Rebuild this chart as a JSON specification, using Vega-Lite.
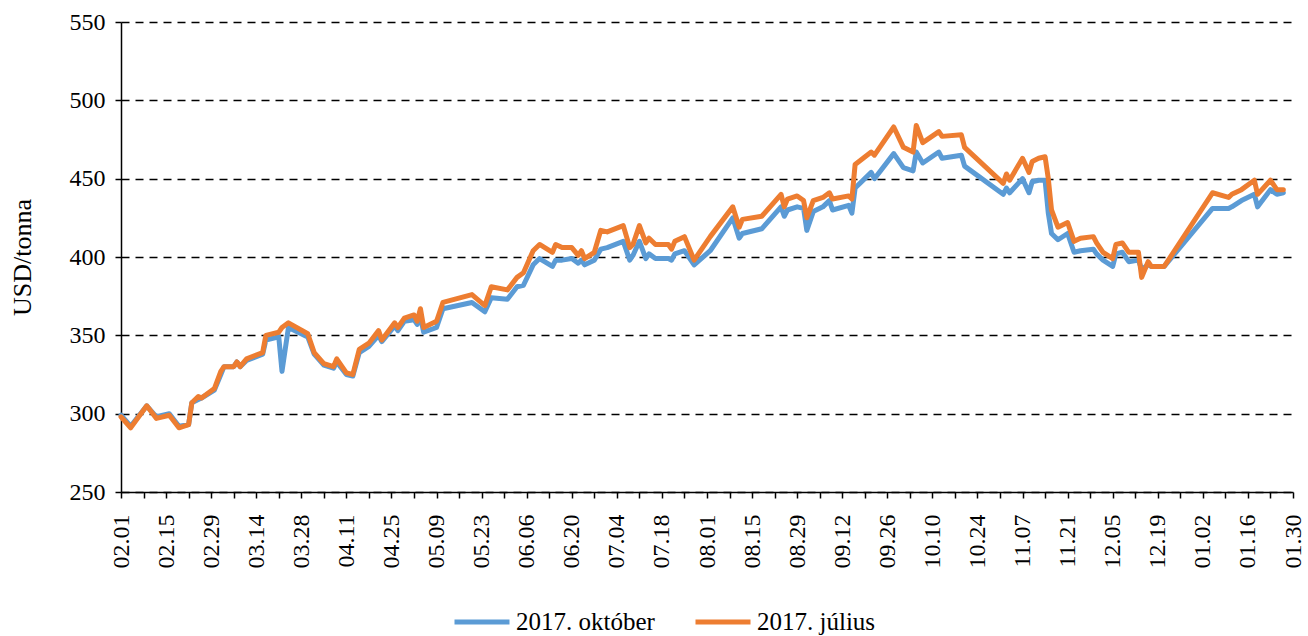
{
  "$schema": "https://vega.github.io/schema/vega-lite/v6.json",
  "width": 1172,
  "height": 470,
  "autosize": {"type": "none"},
  "padding": {"left": 121, "top": 22, "right": 15, "bottom": 144},
  "background": "white",
  "config": {"view": {"stroke": null}},
  "data": {"values": [
    {"d": "2016-02-01", "okt": 299, "jul": 298},
    {"d": "2016-02-04", "okt": 292, "jul": 291},
    {"d": "2016-02-09", "okt": 305, "jul": 305},
    {"d": "2016-02-12", "okt": 298, "jul": 297},
    {"d": "2016-02-16", "okt": 300, "jul": 299},
    {"d": "2016-02-19", "okt": 292, "jul": 291},
    {"d": "2016-02-22", "okt": 293, "jul": 293},
    {"d": "2016-02-23", "okt": 307, "jul": 307},
    {"d": "2016-02-25", "okt": 309, "jul": 311},
    {"d": "2016-02-26", "okt": 310, "jul": 310},
    {"d": "2016-03-01", "okt": 315, "jul": 316},
    {"d": "2016-03-03", "okt": 325, "jul": 327},
    {"d": "2016-03-04", "okt": 330, "jul": 330},
    {"d": "2016-03-07", "okt": 330, "jul": 330},
    {"d": "2016-03-08", "okt": 333, "jul": 333},
    {"d": "2016-03-09", "okt": 330, "jul": 330},
    {"d": "2016-03-11", "okt": 334, "jul": 335},
    {"d": "2016-03-16", "okt": 338, "jul": 339},
    {"d": "2016-03-17", "okt": 347, "jul": 350},
    {"d": "2016-03-21", "okt": 349, "jul": 352},
    {"d": "2016-03-22", "okt": 327, "jul": 355},
    {"d": "2016-03-24", "okt": 355, "jul": 358},
    {"d": "2016-03-30", "okt": 349, "jul": 351},
    {"d": "2016-04-01", "okt": 338, "jul": 339},
    {"d": "2016-04-04", "okt": 331, "jul": 332},
    {"d": "2016-04-07", "okt": 329, "jul": 330},
    {"d": "2016-04-08", "okt": 333, "jul": 335},
    {"d": "2016-04-11", "okt": 325, "jul": 326},
    {"d": "2016-04-13", "okt": 324, "jul": 325},
    {"d": "2016-04-15", "okt": 339, "jul": 341},
    {"d": "2016-04-18", "okt": 343, "jul": 345},
    {"d": "2016-04-21", "okt": 350, "jul": 353},
    {"d": "2016-04-22", "okt": 346, "jul": 347},
    {"d": "2016-04-26", "okt": 356, "jul": 358},
    {"d": "2016-04-27", "okt": 353, "jul": 355},
    {"d": "2016-04-29", "okt": 359, "jul": 361},
    {"d": "2016-05-02", "okt": 360, "jul": 363},
    {"d": "2016-05-03", "okt": 357, "jul": 359},
    {"d": "2016-05-04", "okt": 362, "jul": 367},
    {"d": "2016-05-05", "okt": 352, "jul": 355},
    {"d": "2016-05-09", "okt": 355, "jul": 359},
    {"d": "2016-05-11", "okt": 367, "jul": 371},
    {"d": "2016-05-20", "okt": 371, "jul": 376},
    {"d": "2016-05-24", "okt": 365, "jul": 369},
    {"d": "2016-05-26", "okt": 374, "jul": 381},
    {"d": "2016-05-31", "okt": 373, "jul": 379},
    {"d": "2016-06-03", "okt": 381, "jul": 387},
    {"d": "2016-06-05", "okt": 382, "jul": 390},
    {"d": "2016-06-08", "okt": 395, "jul": 404},
    {"d": "2016-06-10", "okt": 399, "jul": 408},
    {"d": "2016-06-14", "okt": 394, "jul": 403},
    {"d": "2016-06-15", "okt": 398, "jul": 408},
    {"d": "2016-06-17", "okt": 398, "jul": 406},
    {"d": "2016-06-20", "okt": 399, "jul": 406},
    {"d": "2016-06-22", "okt": 396, "jul": 401},
    {"d": "2016-06-23", "okt": 398, "jul": 404},
    {"d": "2016-06-24", "okt": 395, "jul": 399},
    {"d": "2016-06-27", "okt": 398, "jul": 403},
    {"d": "2016-06-29", "okt": 405, "jul": 417},
    {"d": "2016-07-01", "okt": 406, "jul": 416},
    {"d": "2016-07-06", "okt": 410, "jul": 420},
    {"d": "2016-07-08", "okt": 398, "jul": 406},
    {"d": "2016-07-09", "okt": 401, "jul": 408},
    {"d": "2016-07-11", "okt": 410, "jul": 420},
    {"d": "2016-07-13", "okt": 399, "jul": 409},
    {"d": "2016-07-14", "okt": 402, "jul": 412},
    {"d": "2016-07-16", "okt": 399, "jul": 408},
    {"d": "2016-07-20", "okt": 399, "jul": 408},
    {"d": "2016-07-21", "okt": 398, "jul": 405},
    {"d": "2016-07-22", "okt": 402, "jul": 410},
    {"d": "2016-07-25", "okt": 404, "jul": 413},
    {"d": "2016-07-28", "okt": 395, "jul": 398},
    {"d": "2016-08-02", "okt": 404, "jul": 413},
    {"d": "2016-08-09", "okt": 425, "jul": 432},
    {"d": "2016-08-11", "okt": 412, "jul": 419},
    {"d": "2016-08-12", "okt": 415, "jul": 424},
    {"d": "2016-08-18", "okt": 418, "jul": 426},
    {"d": "2016-08-24", "okt": 432, "jul": 440},
    {"d": "2016-08-25", "okt": 426, "jul": 432},
    {"d": "2016-08-26", "okt": 430, "jul": 437},
    {"d": "2016-08-29", "okt": 432, "jul": 439},
    {"d": "2016-08-31", "okt": 431, "jul": 436},
    {"d": "2016-09-01", "okt": 417, "jul": 425},
    {"d": "2016-09-03", "okt": 429, "jul": 436},
    {"d": "2016-09-06", "okt": 432, "jul": 438},
    {"d": "2016-09-08", "okt": 436, "jul": 441},
    {"d": "2016-09-09", "okt": 430, "jul": 437},
    {"d": "2016-09-14", "okt": 433, "jul": 439},
    {"d": "2016-09-15", "okt": 428, "jul": 437},
    {"d": "2016-09-16", "okt": 444, "jul": 459},
    {"d": "2016-09-21", "okt": 454, "jul": 467},
    {"d": "2016-09-22", "okt": 450, "jul": 465},
    {"d": "2016-09-28", "okt": 466, "jul": 483},
    {"d": "2016-10-01", "okt": 457, "jul": 470},
    {"d": "2016-10-04", "okt": 455, "jul": 467},
    {"d": "2016-10-05", "okt": 467, "jul": 484},
    {"d": "2016-10-07", "okt": 460, "jul": 473},
    {"d": "2016-10-12", "okt": 467, "jul": 480},
    {"d": "2016-10-13", "okt": 463, "jul": 477},
    {"d": "2016-10-19", "okt": 465, "jul": 478},
    {"d": "2016-10-20", "okt": 458, "jul": 470},
    {"d": "2016-11-01", "okt": 440, "jul": 447},
    {"d": "2016-11-02", "okt": 444, "jul": 453},
    {"d": "2016-11-03", "okt": 441, "jul": 449},
    {"d": "2016-11-07", "okt": 450, "jul": 463},
    {"d": "2016-11-09", "okt": 441, "jul": 454},
    {"d": "2016-11-10", "okt": 448, "jul": 461},
    {"d": "2016-11-12", "okt": 449, "jul": 463},
    {"d": "2016-11-14", "okt": 449, "jul": 464},
    {"d": "2016-11-15", "okt": 428, "jul": 450},
    {"d": "2016-11-16", "okt": 415, "jul": 430},
    {"d": "2016-11-18", "okt": 411, "jul": 419},
    {"d": "2016-11-21", "okt": 415, "jul": 422},
    {"d": "2016-11-23", "okt": 403, "jul": 410},
    {"d": "2016-11-25", "okt": 404, "jul": 412},
    {"d": "2016-11-29", "okt": 405, "jul": 413},
    {"d": "2016-11-30", "okt": 402, "jul": 409},
    {"d": "2016-12-02", "okt": 398, "jul": 403},
    {"d": "2016-12-05", "okt": 394, "jul": 399},
    {"d": "2016-12-06", "okt": 402, "jul": 408},
    {"d": "2016-12-08", "okt": 403, "jul": 409},
    {"d": "2016-12-10", "okt": 397, "jul": 403},
    {"d": "2016-12-13", "okt": 398, "jul": 403},
    {"d": "2016-12-14", "okt": 392, "jul": 387},
    {"d": "2016-12-16", "okt": 395, "jul": 397},
    {"d": "2016-12-17", "okt": 394, "jul": 394},
    {"d": "2016-12-21", "okt": 394, "jul": 394},
    {"d": "2017-01-05", "okt": 431, "jul": 441},
    {"d": "2017-01-10", "okt": 431, "jul": 438},
    {"d": "2017-01-11", "okt": 432, "jul": 440},
    {"d": "2017-01-14", "okt": 436, "jul": 443},
    {"d": "2017-01-18", "okt": 440, "jul": 449},
    {"d": "2017-01-19", "okt": 432, "jul": 440},
    {"d": "2017-01-23", "okt": 443, "jul": 449},
    {"d": "2017-01-25", "okt": 440, "jul": 443},
    {"d": "2017-01-27", "okt": 441, "jul": 443}
  ]},
  "encoding": {
    "x": {
      "field": "d",
      "type": "temporal",
      "title": null,
      "scale": {
        "type": "utc",
        "domain": [{"year": 2016, "month": 2, "date": 1, "utc": true}, {"year": 2017, "month": 1, "date": 30, "utc": true}],
        "nice": false
      },
      "axis": {
        "values": [
          {"year": 2016, "month": 2, "date": 1, "utc": true}, {"year": 2016, "month": 2, "date": 8, "utc": true}, {"year": 2016, "month": 2, "date": 15, "utc": true}, {"year": 2016, "month": 2, "date": 22, "utc": true}, {"year": 2016, "month": 2, "date": 29, "utc": true},
          {"year": 2016, "month": 3, "date": 7, "utc": true}, {"year": 2016, "month": 3, "date": 14, "utc": true}, {"year": 2016, "month": 3, "date": 21, "utc": true}, {"year": 2016, "month": 3, "date": 28, "utc": true},
          {"year": 2016, "month": 4, "date": 4, "utc": true}, {"year": 2016, "month": 4, "date": 11, "utc": true}, {"year": 2016, "month": 4, "date": 18, "utc": true}, {"year": 2016, "month": 4, "date": 25, "utc": true},
          {"year": 2016, "month": 5, "date": 2, "utc": true}, {"year": 2016, "month": 5, "date": 9, "utc": true}, {"year": 2016, "month": 5, "date": 16, "utc": true}, {"year": 2016, "month": 5, "date": 23, "utc": true}, {"year": 2016, "month": 5, "date": 30, "utc": true},
          {"year": 2016, "month": 6, "date": 6, "utc": true}, {"year": 2016, "month": 6, "date": 13, "utc": true}, {"year": 2016, "month": 6, "date": 20, "utc": true}, {"year": 2016, "month": 6, "date": 27, "utc": true},
          {"year": 2016, "month": 7, "date": 4, "utc": true}, {"year": 2016, "month": 7, "date": 11, "utc": true}, {"year": 2016, "month": 7, "date": 18, "utc": true}, {"year": 2016, "month": 7, "date": 25, "utc": true},
          {"year": 2016, "month": 8, "date": 1, "utc": true}, {"year": 2016, "month": 8, "date": 8, "utc": true}, {"year": 2016, "month": 8, "date": 15, "utc": true}, {"year": 2016, "month": 8, "date": 22, "utc": true}, {"year": 2016, "month": 8, "date": 29, "utc": true},
          {"year": 2016, "month": 9, "date": 5, "utc": true}, {"year": 2016, "month": 9, "date": 12, "utc": true}, {"year": 2016, "month": 9, "date": 19, "utc": true}, {"year": 2016, "month": 9, "date": 26, "utc": true},
          {"year": 2016, "month": 10, "date": 3, "utc": true}, {"year": 2016, "month": 10, "date": 10, "utc": true}, {"year": 2016, "month": 10, "date": 17, "utc": true}, {"year": 2016, "month": 10, "date": 24, "utc": true}, {"year": 2016, "month": 10, "date": 31, "utc": true},
          {"year": 2016, "month": 11, "date": 7, "utc": true}, {"year": 2016, "month": 11, "date": 14, "utc": true}, {"year": 2016, "month": 11, "date": 21, "utc": true}, {"year": 2016, "month": 11, "date": 28, "utc": true},
          {"year": 2016, "month": 12, "date": 5, "utc": true}, {"year": 2016, "month": 12, "date": 12, "utc": true}, {"year": 2016, "month": 12, "date": 19, "utc": true}, {"year": 2016, "month": 12, "date": 26, "utc": true},
          {"year": 2017, "month": 1, "date": 2, "utc": true}, {"year": 2017, "month": 1, "date": 9, "utc": true}, {"year": 2017, "month": 1, "date": 16, "utc": true}, {"year": 2017, "month": 1, "date": 23, "utc": true}, {"year": 2017, "month": 1, "date": 30, "utc": true}
        ],
        "labelExpr": "round((datum.value - 1454284800000) / 86400000) % 14 == 0 ? utcFormat(datum.value, '%m.%d') : ''",
        "labelAngle": -90,
        "labelOverlap": false,
        "labelBound": false,
        "labelFlush": false,
        "labelFont": "Liberation Serif",
        "labelFontSize": 24,
        "labelColor": "black",
        "labelPadding": 16,
        "grid": false,
        "domainColor": "black",
        "domainWidth": 1.5,
        "tickColor": "black",
        "tickWidth": 1.5,
        "tickSize": 6
      }
    }
  },
  "layer": [
    {
      "mark": {"type": "line", "strokeWidth": 5, "strokeJoin": "round", "strokeCap": "round"},
      "encoding": {
        "y": {
          "field": "okt",
          "type": "quantitative",
          "title": "USD/tonna",
          "scale": {"domain": [250, 550], "nice": false, "zero": false},
          "axis": {
            "values": [250, 300, 350, 400, 450, 500, 550],
            "grid": true,
            "gridColor": "black",
            "gridDash": [8, 6],
            "gridWidth": 1.5,
            "domainColor": "black",
            "domainWidth": 1.5,
            "tickColor": "black",
            "tickWidth": 1.5,
            "tickSize": 6,
            "labelFont": "Liberation Serif",
            "labelFontSize": 24,
            "labelColor": "black",
            "labelPadding": 10,
            "titleFont": "Liberation Serif",
            "titleFontSize": 26,
            "titleFontWeight": "normal",
            "titleColor": "black",
            "titleX": -99,
            "titleY": 235,
            "titleAngle": -90,
            "titleAlign": "center",
            "titleBaseline": "middle"
          }
        },
        "color": {
          "datum": "2017. október",
          "type": "nominal",
          "scale": {"domain": ["2017. október", "2017. július"], "range": ["#5B9BD5", "#ED7D31"]},
          "legend": {
            "title": null,
            "orient": "none",
            "direction": "horizontal",
            "legendX": 331,
            "legendY": 570,
            "symbolType": "stroke",
            "symbolSize": 3025,
            "symbolStrokeWidth": 5,
            "labelFont": "Liberation Serif",
            "labelFontSize": 25,
            "labelColor": "black",
            "labelOffset": 4,
            "columnPadding": 30,
            "padding": 0,
            "labelLimit": 400
          }
        }
      }
    },
    {
      "mark": {"type": "line", "strokeWidth": 5, "strokeJoin": "round", "strokeCap": "round"},
      "encoding": {
        "y": {"field": "jul", "type": "quantitative", "title": "USD/tonna"},
        "color": {"datum": "2017. július", "type": "nominal"}
      }
    }
  ]
}
